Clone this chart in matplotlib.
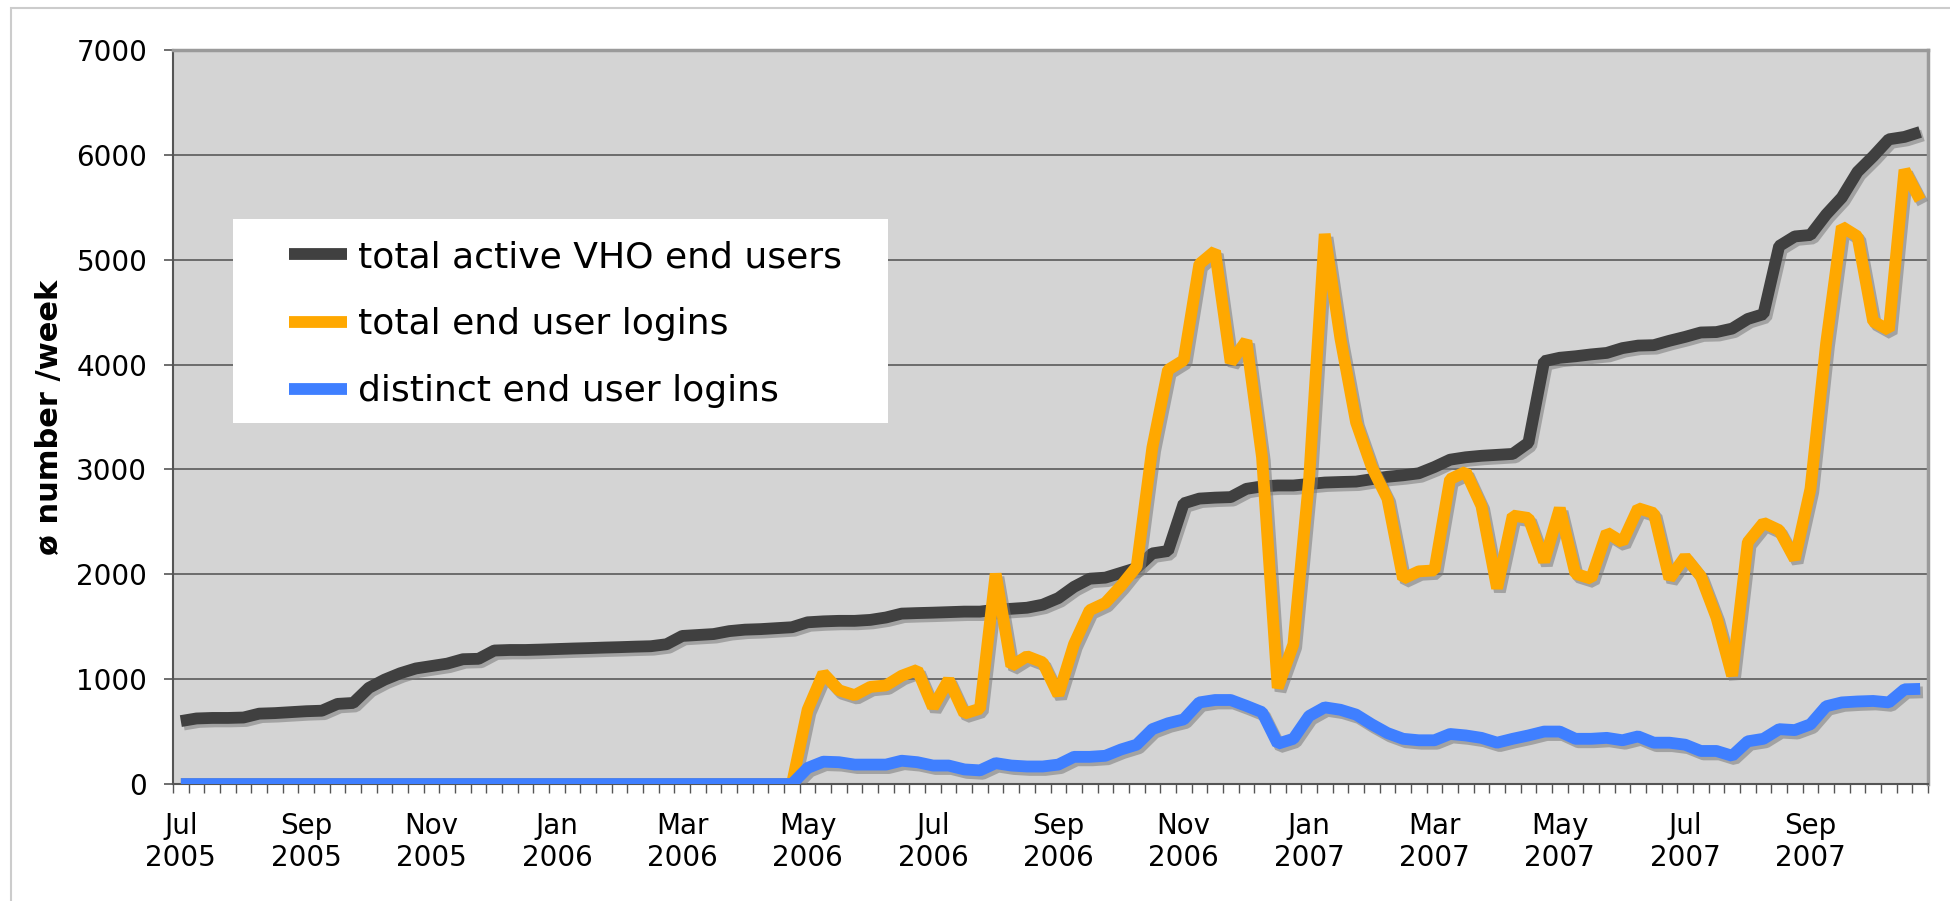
import matplotlib
matplotlib.use('Agg')
import matplotlib.pyplot as plt
import matplotlib.patheffects as pe
from matplotlib.patches import Rectangle
from matplotlib.lines import Line2D
import numpy as np

# weekly samples, Jul 2005 .. Oct 2007
month_labels = ['Jul\n2005', 'Sep\n2005', 'Nov\n2005', 'Jan\n2006', 'Mar\n2006',
                'May\n2006', 'Jul\n2006', 'Sep\n2006', 'Nov\n2006', 'Jan\n2007',
                'Mar\n2007', 'May\n2007', 'Jul\n2007', 'Sep\n2007']
label_every = 8

active_users = [600, 625, 630, 630, 634, 671, 676, 685, 694, 699,
                764, 773, 917, 995, 1056, 1102, 1125, 1148, 1190, 1194,
                1273, 1278, 1278, 1282, 1287, 1292, 1296, 1301, 1305, 1310,
                1314, 1333, 1412, 1421, 1430, 1458, 1472, 1477, 1486, 1495,
                1542, 1551, 1556, 1556, 1565, 1588, 1625, 1630, 1634, 1639,
                1644, 1644, 1662, 1671, 1681, 1710, 1773, 1880, 1958, 1968,
                2014, 2060, 2199, 2222, 2676, 2722, 2731, 2736, 2815, 2838,
                2847, 2847, 2861, 2875, 2880, 2884, 2907, 2930, 2944, 2963,
                3023, 3093, 3116, 3130, 3139, 3148, 3255, 4032, 4065, 4079,
                4097, 4111, 4157, 4181, 4185, 4227, 4264, 4306, 4310, 4343,
                4435, 4481, 5130, 5222, 5236, 5431, 5593, 5838, 5986, 6148,
                6171, 6218]

total_logins = [0] * 40 + [
                708, 1056, 894, 847, 926, 940, 1032, 1088, 731, 995,
                671, 718, 2005, 1125, 1218, 1160, 850, 1333, 1657, 1727,
                1889, 2074, 3208, 3949, 4042, 4958, 5083, 4019, 4227, 3116,
                917, 1333, 2900, 5245, 4250, 3450, 3023, 2722, 1958, 2028,
                2037, 2907, 2977, 2653, 1866, 2560, 2537, 2120, 2630, 2005,
                1958, 2398, 2306, 2630, 2583, 1958, 2167, 1981, 1588, 1032,
                2306, 2491, 2421, 2144, 2815, 4204, 5315, 5222, 4412, 4329,
                5856, 5569]

distinct_logins = [0] * 40 + [
                153, 213, 208, 185, 185, 185, 222, 208, 176, 176,
                139, 130, 199, 176, 167, 167, 185, 259, 259, 269,
                329, 375, 523, 579, 616, 778, 801, 801, 745, 685,
                384, 431, 648, 731, 708, 662, 569, 486, 431, 417,
                417, 477, 463, 440, 394, 431, 463, 500, 500, 431,
                431, 440, 417, 454, 394, 394, 375, 315, 315, 269,
                407, 431, 523, 514, 569, 741, 778, 787, 792, 778,
                903, 907]

series_names = ['total active VHO end users', 'total end user logins', 'distinct end user logins']
colors = ['#404040', '#ffa800', '#3f7fff']

weeks = np.arange(len(active_users))

fig = plt.figure(figsize=(19.5, 9.01), dpi=100)
ax = fig.add_axes([173/1950, 1 - 784/901, 1755/1950, 734/901])

shadow = [pe.SimpleLineShadow(offset=(2, -2.5), shadow_color='#7a7a7a', alpha=0.55), pe.Normal()]
for vals, col in zip([active_users, total_logins, distinct_logins], colors):
    ax.plot(weeks, vals, color=col, lw=8.5, solid_joinstyle='bevel',
            solid_capstyle='butt', path_effects=shadow, zorder=3)

ax.set_xlim(-0.5, len(weeks) - 0.5)
ax.set_ylim(0, 7000)
ax.set_facecolor('#d4d4d4')
ax.set_yticks(range(0, 7001, 1000))
ax.yaxis.grid(True, color='#5a5a5a', lw=1.2)
ax.set_axisbelow(True)

ax.set_xticks(weeks[::label_every][:len(month_labels)])
ax.set_xticklabels(month_labels)
ax.set_xticks(np.arange(-0.5, len(weeks), 1), minor=True)
ax.tick_params(axis='x', which='major', length=0, pad=20, labelsize=20)
ax.tick_params(axis='x', which='minor', length=6.5, width=1, color='#555555')
ax.tick_params(axis='y', length=6.5, width=1.2, color='#555555', pad=12, labelsize=20)

for s in ['left', 'bottom']:
    ax.spines[s].set_color('#555555')
    ax.spines[s].set_linewidth(1.5)
for s in ['top', 'right']:
    ax.spines[s].set_color('#9a9a9a')
    ax.spines[s].set_linewidth(2.5)

ax.set_ylabel('ø number /week', fontsize=22, fontweight='bold', va='center')
ax.yaxis.set_label_coords((50 - 173) / 1755, 0.5)

# legend box
fig.add_artist(Rectangle((233/1950, 1 - 423/901), 655/1950, 204/901,
                         transform=fig.transFigure, facecolor='white',
                         edgecolor='none', zorder=4))
handles = [Line2D([], [], color=c, lw=8.5, solid_capstyle='butt') for c in colors]
fig.legend(handles, series_names, loc='upper left', frameon=False,
           bbox_to_anchor=(289/1950, 1 - 240/901), bbox_transform=fig.transFigure,
           fontsize=26, borderpad=0, borderaxespad=0, handlelength=1.6,
           handletextpad=0.3, labelspacing=0.92).set_zorder(5)

fig.add_artist(Rectangle((11/1950, -0.1), 1.2, 1.1 - 8/901,
                         transform=fig.transFigure, fill=False,
                         edgecolor='#cccccc', lw=1.5))

fig.savefig('out.png', dpi=100)
